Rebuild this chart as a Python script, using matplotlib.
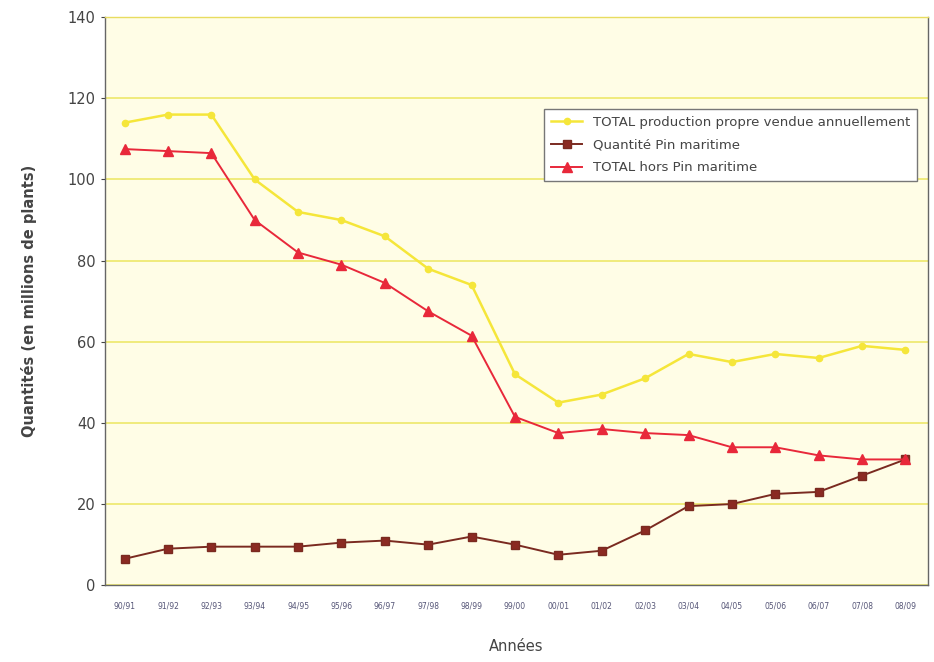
#!/usr/bin/env python3
"""
Production de plants forestiers : quantités vendues par campagne.
"""
import matplotlib.pyplot as plt

# Campagnes
campagnes = ["90/91", "91/92", "92/93", "93/94", "94/95", "95/96", "96/97",
             "97/98", "98/99", "99/00", "00/01", "01/02", "02/03", "03/04",
             "04/05", "05/06", "06/07", "07/08", "08/09"]

# Séries (millions de plants)
total_production = [114, 116, 116, 100, 92, 90, 86, 78, 74, 52, 45, 47,
                    51, 57, 55, 57, 56, 59, 58]
pin_maritime = [6.5, 9, 9.5, 9.5, 9.5, 10.5, 11, 10, 12, 10, 7.5, 8.5,
                13.5, 19.5, 20, 22.5, 23, 27, 31]
hors_pin = [107.5, 107, 106.5, 90, 82, 79, 74.5, 67.5, 61.5, 41.5, 37.5,
            38.5, 37.5, 37, 34, 34, 32, 31, 31]

text_col = "#444444"

fig = plt.figure(figsize=(9.34, 6.62), dpi=100)
ax = fig.add_axes([0.112, 0.116, 0.882, 0.858])
ax.set_facecolor("#fffde6")

x = range(len(campagnes))
ax.plot(x, total_production, color="#f5e63a", marker="o", markersize=4.5,
        linewidth=1.8, label="TOTAL production propre vendue annuellement")
ax.plot(x, pin_maritime, color="#7a2a20", marker="s", markersize=6,
        markerfacecolor="#8b2a22", linewidth=1.4, label="Quantité Pin maritime")
ax.plot(x, hors_pin, color="#e8283a", marker="^", markersize=7,
        linewidth=1.4, label="TOTAL hors Pin maritime")

ax.set_xlim(-0.46, 18.53)
ax.set_ylim(0, 140)
ax.set_yticks(range(0, 141, 20))
ax.set_xticks(list(x))
ax.set_xticklabels(campagnes, fontsize=5.5, color="#555577")
ax.tick_params(axis="y", labelsize=10.5, colors=text_col, length=3)
ax.tick_params(axis="x", length=0, pad=12)

ax.grid(axis="y", color="#ede86a", linewidth=1.2)
ax.set_axisbelow(True)
for s in ax.spines.values():
    s.set_color("#666666")
    s.set_linewidth(1)
ax.spines["top"].set_color("#e8dc60")

ax.set_xlabel("Années", fontsize=10.5, color=text_col, labelpad=20)
ax.set_ylabel("Quantités (en millions de plants)", fontsize=10.5,
              color=text_col, fontweight="bold", labelpad=22)

leg = ax.legend(loc="upper right", bbox_to_anchor=(0.994, 0.85), fontsize=9.5,
                frameon=True, fancybox=False, framealpha=1,
                edgecolor="#777777", borderpad=0.5, labelspacing=0.75,
                handlelength=2.4)
for t in leg.get_texts():
    t.set_color(text_col)

plt.savefig("out.png", dpi=100)
plt.close()
